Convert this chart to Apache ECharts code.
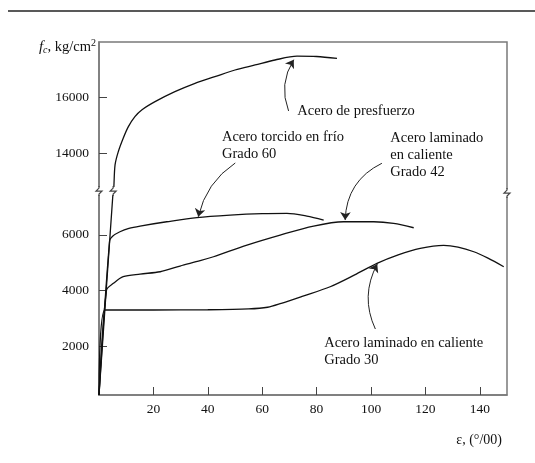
<!DOCTYPE html>
<html><head><meta charset="utf-8">
<script src="https://cdn.jsdelivr.net/npm/echarts@6/dist/echarts.min.js"></script>
<style>html,body{margin:0;padding:0;background:#fff}#c{width:535px;height:463px}</style>
</head><body><div id="c"></div>
<script>
// ---- data (strain in 0/00, stress in kg/cm2) ----
const xTicks = [20, 40, 60, 80, 100, 120, 140];
const yTicks = [2000, 4000, 6000, 14000, 16000];
const breakRange = [7570, 12650];

const prestress = [[0,250],[5.2,7570],[5.4,12700],[5.9,13587],[7.1,14064],[8.9,14545],[10.8,14961],[13.2,15320],[15.7,15560],[20.6,15858],[27.9,16217],[35.3,16518],[42.6,16755],[50,16995],[57.4,17175],[64.7,17354],[72.8,17490],[80,17480],[87.5,17410]];
const grade60 = [[0,250],[3.9,5786],[5,5950],[7.7,6109],[11,6230],[15.1,6314],[24.9,6468],[36,6620],[48.2,6708],[60,6760],[69.1,6770],[76.4,6673],[82.6,6529]];
const grade42 = [[0,250],[2.75,4017],[5.3,4258],[8.9,4495],[15.1,4591],[22.5,4674],[29.8,4880],[37.2,5069],[42.1,5212],[54.4,5632],[66.6,5991],[78.9,6314],[89.9,6468],[101,6468],[108.3,6410],[115.7,6253]];
const grade30 = [[0,250],[2.2,3300],[20,3300],[40,3310],[55,3340],[62,3400],[67,3540],[75,3800],[85,4136],[94,4560],[102.2,4975],[110,5280],[118.1,5514],[126.7,5622],[132,5560],[137.8,5392],[143,5160],[148.8,4854]];

const arrowPres = [[69.7,15524],[71.6,17365]];
const arrow60 = [[50.1,13658],[36.5,6647]];
const arrow42 = [[104,13647],[90.5,6529]];
const arrow30 = [[101.6,2618],[102.3,4950]];

const notes = [
  {text: 'Acero de presfuerzo', at: [72.9, 15524]},
  {text: 'Acero torcido en frío\nGrado 60', at: [45.2, 14581]},
  {text: 'Acero laminado\nen caliente\nGrado 42', at: [107.1, 14545]},
  {text: 'Acero laminado en caliente\nGrado 30', at: [82.8, 2127]}
];

const FONT = '"Liberation Serif", "DejaVu Serif", serif';
const AX = '#7a7a7a';
const INK = '#111';

const chart = echarts.init(document.getElementById('c'));

function curve(name, data) {
  return {
    type: 'line', name, data, smooth: 0.3, showSymbol: false, symbol: 'none',
    silent: true, animation: false,
    lineStyle: {color: INK, width: 1.3}
  };
}
function arrow(a, curv) {
  return {
    type: 'lines', coordinateSystem: 'cartesian2d', silent: true, animation: false,
    symbol: ['none', 'arrow'], symbolSize: 8,
    lineStyle: {color: '#222', width: 1, opacity: 1, curveness: curv},
    itemStyle: {color: '#222'},
    data: [{coords: [a[0], a[1]]}]
  };
}

chart.setOption({
  animation: false,
  grid: {left: 99, right: 28, top: 42, bottom: 68, show: true, borderColor: AX, borderWidth: 1.5, backgroundColor: 'transparent'},
  xAxis: {
    type: 'value', min: 0, max: 150,
    axisLine: {show: true, lineStyle: {color: AX, width: 1.5}},
    axisTick: {show: true, inside: true, length: 8, lineStyle: {color: '#444', width: 1}, customValues: xTicks},
    axisLabel: {customValues: xTicks, color: INK, fontFamily: FONT, fontSize: 13.5, margin: 7, formatter: v => String(v)},
    splitLine: {show: false}
  },
  yAxis: {
    type: 'value', min: 250, max: 18000,
    breaks: [{start: breakRange[0], end: breakRange[1], gap: 0}],
    breakArea: {show: false},
    axisLine: {show: true, lineStyle: {color: AX, width: 1.5}},
    axisTick: {show: true, inside: true, length: 8, lineStyle: {color: '#444', width: 1}, customValues: yTicks},
    axisLabel: {customValues: yTicks, color: INK, fontFamily: FONT, fontSize: 13.5, margin: 10, formatter: v => String(v)},
    splitLine: {show: false}
  },
  series: [
    curve('Acero de presfuerzo', prestress),
    curve('Acero torcido en frío Grado 60', grade60),
    curve('Acero laminado en caliente Grado 42', grade42),
    curve('Acero laminado en caliente Grado 30', grade30),
    arrow(arrowPres, 0.25),
    arrow(arrow60, -0.2),
    arrow(arrow42, -0.3),
    arrow(arrow30, 0.25)
  ]
});

const px = (p) => chart.convertToPixel({gridIndex: 0}, p);
const g = [];
function zig(cx, cy) {
  g.push({type: 'rect', shape: {x: cx - 5, y: cy - 4, width: 10, height: 8}, style: {fill: '#fff'}, z: 50});
  g.push({type: 'polyline', shape: {points: [[cx, cy - 5], [cx, cy - 3], [cx - 3, cy], [cx + 3, cy], [cx, cy + 3], [cx, cy + 5]]}, style: {stroke: '#444', lineWidth: 1.2, fill: 'none'}, z: 51});
}
const bLeft = px([0, breakRange[0]]);
const bRight = px([150, breakRange[0]]);
const bCurve = px(prestress[1]);
zig(bLeft[0], bLeft[1]);
zig(bRight[0], bRight[1] + 2);
zig(bCurve[0], bCurve[1]);

notes.forEach(n => {
  const p = px(n.at);
  g.push({type: 'text', z: 60, style: {text: n.text, x: p[0], y: p[1] - 8.5, fill: INK, font: '14.5px ' + FONT, lineHeight: 17, align: 'left', verticalAlign: 'top'}});
});

const tl = px([0, 18000]);
const br = px([150, 250]);
g.push({type: 'text', z: 60, style: {
  text: '{f|f}{c|c}{n|, kg/cm}{s|2}', x: tl[0] - 3, y: tl[1] + 5, align: 'right', verticalAlign: 'middle',
  rich: {
    f: {fontFamily: FONT, fontSize: 15, fontStyle: 'italic', fill: INK},
    c: {fontFamily: FONT, fontSize: 10, fontStyle: 'italic', fill: INK, padding: [7, 0, 0, 0]},
    n: {fontFamily: FONT, fontSize: 14.5, fill: INK},
    s: {fontFamily: FONT, fontSize: 10, fill: INK, padding: [0, 0, 7, 0]}
  }
}});
g.push({type: 'text', z: 60, style: {text: 'ε, (°/00)', x: br[0] - 5, y: br[1] + 45, fill: INK, font: '14px ' + FONT, align: 'right', verticalAlign: 'middle'}});
g.push({type: 'line', shape: {x1: 8, y1: 11, x2: 535, y2: 11}, style: {stroke: '#222', lineWidth: 1.5}});

chart.setOption({graphic: g});
</script>
</body></html>
